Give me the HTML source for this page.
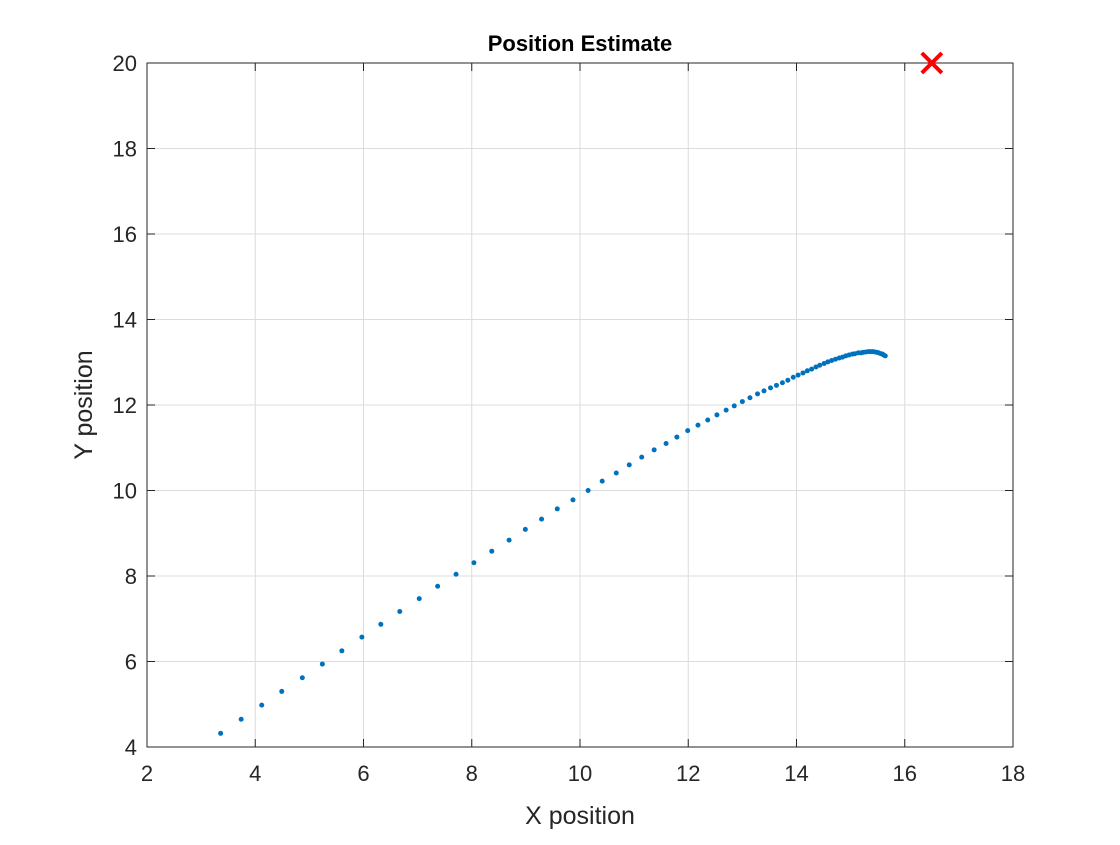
<!DOCTYPE html>
<html><head><meta charset="utf-8"><style>
body{margin:0;background:#fff}
text{font-family:"Liberation Sans",sans-serif;fill:#262626}
</style></head><body>
<svg id="chart" width="1120" height="840">
<rect width="1120" height="840" fill="#fff"/>
<g id="grid"></g>
<g id="ticks"></g>
<g id="pts"></g>
<rect x="147" y="63" width="866" height="684" fill="none" stroke="#262626" stroke-width="1"/>
<g id="target"></g>
<text x="580" y="51" text-anchor="middle" font-size="22" font-weight="bold" style="fill:#000">Position Estimate</text>
<text x="580" y="824" text-anchor="middle" font-size="25">X position</text>
<text transform="translate(92,405) rotate(-90)" text-anchor="middle" font-size="25">Y position</text>
</svg>
<script>
const xTicks=[2,4,6,8,10,12,14,16,18];
const yTicks=[4,6,8,10,12,14,16,18,20];
const xs=[3.36,3.74,4.12,4.49,4.87,5.24,5.60,5.97,6.32,6.67,7.03,7.37,7.71,8.04,8.37,8.69,8.99,9.29,9.58,9.87,10.15,10.41,10.67,10.91,11.14,11.37,11.59,11.79,11.99,12.18,12.36,12.53,12.70,12.85,13.00,13.14,13.28,13.40,13.52,13.63,13.74,13.84,13.94,14.03,14.12,14.20,14.28,14.36,14.43,14.51,14.58,14.65,14.72,14.79,14.85,14.91,14.97,15.03,15.08,15.14,15.19,15.23,15.28,15.33,15.37,15.41,15.45,15.49,15.52,15.56,15.59,15.61,15.64];
const ys=[4.32,4.65,4.98,5.30,5.62,5.94,6.25,6.57,6.87,7.17,7.47,7.76,8.04,8.31,8.58,8.84,9.09,9.33,9.57,9.78,10.00,10.22,10.41,10.60,10.78,10.95,11.10,11.25,11.40,11.53,11.65,11.77,11.88,11.98,12.08,12.17,12.26,12.33,12.40,12.46,12.52,12.58,12.65,12.70,12.75,12.80,12.84,12.89,12.93,12.97,13.01,13.04,13.07,13.10,13.12,13.15,13.17,13.19,13.20,13.22,13.22,13.23,13.24,13.25,13.25,13.25,13.24,13.23,13.22,13.20,13.19,13.17,13.15];
const target=[16.5,20];
const NS='http://www.w3.org/2000/svg';
const X0=147,X1=1013,Y0=747,Y1=63;
const sx=v=>X0+(v-2)/16*(X1-X0);
const sy=v=>Y0-(v-4)/16*(Y0-Y1);
function mk(t,a,p){const e=document.createElementNS(NS,t);for(const k in a)e.setAttribute(k,a[k]);p.appendChild(e);return e;}
const grid=document.getElementById('grid'),ticks=document.getElementById('ticks'),pts=document.getElementById('pts');
xTicks.forEach(v=>{const x=sx(v);
 const g=mk('line',{x1:x,x2:x,y1:Y1,y2:Y0,stroke:'#dcdcdc','stroke-width':1},grid);
 
 
 const tk=mk('path',{d:`M${x},${Y0}V${Y0-8}M${x},${Y1}V${Y1+8}`,stroke:'#262626'},ticks);
 
 
 const t=mk('text',{x:x,y:Y0+34,'text-anchor':'middle','font-size':22},ticks);t.textContent=v;
 
 
});
yTicks.forEach(v=>{const y=sy(v);
 const g=mk('line',{x1:X0,x2:X1,y1:y,y2:y,stroke:'#dcdcdc','stroke-width':1},grid);
 
 
 const tk=mk('path',{d:`M${X0},${y}H${X0+8}M${X1},${y}H${X1-8}`,stroke:'#262626'},ticks);
 
 
 const t=mk('text',{x:X0-10,y:y+8,'text-anchor':'end','font-size':22},ticks);t.textContent=v;
 
 
});
xs.forEach((v,i)=>{const c=mk('circle',{cx:sx(v),cy:sy(ys[i]),r:2.5,fill:'#0072bd'},pts);
 
 
});
const tg=document.getElementById('target');const tx=sx(target[0]),ty=sy(target[1]);
mk('path',{d:`M${tx-10},${ty-10}L${tx+10},${ty+10}M${tx-10},${ty+10}L${tx+10},${ty-10}`,stroke:'#ff0000','stroke-width':4,fill:'none'},tg);
</script>
</body></html>
